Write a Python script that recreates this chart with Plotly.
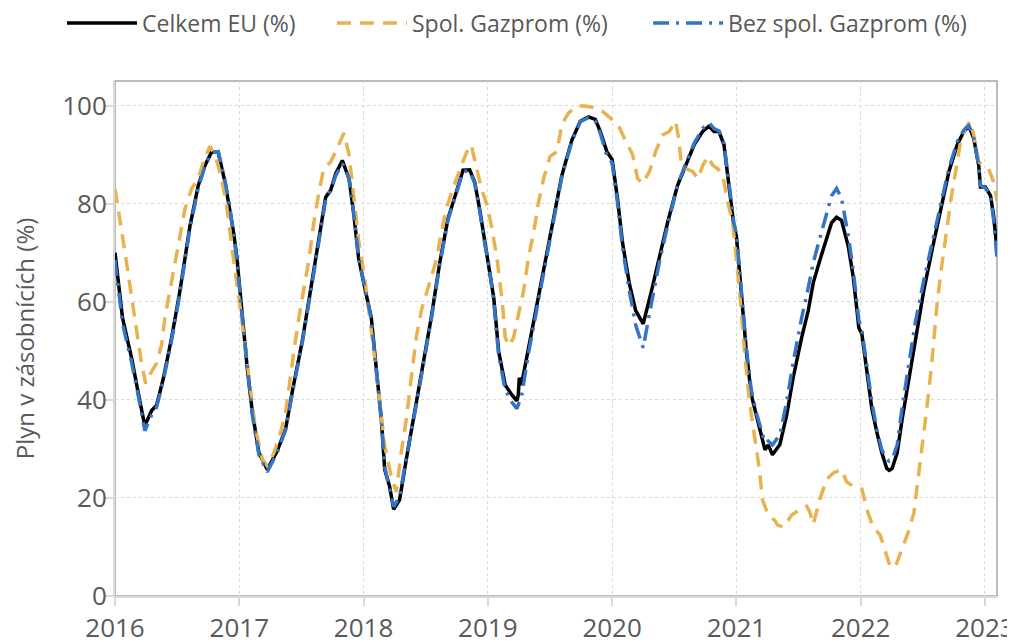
import plotly.graph_objects as go

# ---- data (decimal years, % full) ----
t_eu = [2016.00, 2016.03, 2016.06, 2016.10, 2016.134, 2016.19, 2016.24, 2016.295, 2016.335, 2016.39,
        2016.456, 2016.523, 2016.603, 2016.67, 2016.724, 2016.778, 2016.831, 2016.885, 2016.925, 2016.955,
        2016.979, 2017.011, 2017.064, 2017.105, 2017.158, 2017.225, 2017.306, 2017.373, 2017.426, 2017.507,
        2017.587, 2017.655, 2017.695, 2017.735, 2017.776, 2017.829, 2017.883, 2017.923, 2017.96, 2018.01,
        2018.062, 2018.102, 2018.143, 2018.17, 2018.21, 2018.242, 2018.29, 2018.344, 2018.411, 2018.478,
        2018.545, 2018.612, 2018.679, 2018.746, 2018.80, 2018.854, 2018.894, 2018.934, 2018.974, 2019.006,
        2019.047, 2019.087, 2019.14, 2019.194, 2019.234, 2019.245, 2019.253, 2019.27, 2019.328, 2019.381,
        2019.449, 2019.516, 2019.596, 2019.677, 2019.744, 2019.81, 2019.865, 2019.905, 2019.958, 2020.0,
        2020.044, 2020.084, 2020.138, 2020.19, 2020.25, 2020.31, 2020.379, 2020.446, 2020.526, 2020.593,
        2020.66, 2020.728, 2020.78, 2020.82, 2020.86, 2020.90, 2020.94, 2020.98, 2021.0, 2021.04,
        2021.08, 2021.12, 2021.16, 2021.20, 2021.23, 2021.256, 2021.29, 2021.35, 2021.404, 2021.457,
        2021.525, 2021.578, 2021.618, 2021.672, 2021.726, 2021.766, 2021.806, 2021.846, 2021.90, 2021.94,
        2021.97, 2021.985, 2022.01, 2022.05, 2022.09, 2022.13, 2022.17, 2022.21, 2022.23, 2022.253,
        2022.294, 2022.334, 2022.388, 2022.44, 2022.508, 2022.575, 2022.643, 2022.71, 2022.777, 2022.83,
        2022.87, 2022.91, 2022.95, 2022.964, 2023.004, 2023.045, 2023.07, 2023.097]

celkem_eu = [70.0, 63.3, 56.8, 52.2, 48.5, 41.0, 34.7, 37.8, 38.9, 44.5,
             52.7, 62.3, 75.4, 83.7, 87.8, 90.6, 90.4, 84.4, 78.9, 74.0,
             69.4, 60.9, 46.5, 37.5, 29.2, 25.8, 29.6, 34.1, 41.6, 52.0,
             64.4, 74.7, 81.3, 82.7, 86.1, 88.8, 85.1, 77.5, 68.9, 62.8,
             56.8, 46.5, 36.1, 25.8, 22.3, 17.7, 19.6, 27.9, 37.5, 47.2,
             56.8, 67.8, 76.9, 82.3, 86.8, 86.9, 84.4, 78.9, 72.5, 68.5,
             60.9, 49.9, 43.0, 41.0, 39.8, 41.0, 44.5, 43.0, 50.6, 57.5,
             66.5, 76.1, 85.8, 93.0, 96.8, 97.7, 97.2, 94.7, 90.6, 89.0,
             80.9, 72.0, 63.8, 58.2, 55.5, 61.5, 69.2, 76.1, 83.7, 87.8,
             92.0, 94.7, 95.8, 94.7, 94.7, 92.0, 83.1, 75.4, 73.4, 60.9,
             49.9, 41.0, 36.8, 32.7, 29.8, 30.8, 28.8, 30.9, 36.8, 44.5,
             52.7, 58.2, 63.8, 68.5, 72.7, 76.1, 77.2, 76.6, 71.3, 65.1,
             58.3, 54.7, 53.4, 45.8, 38.2, 33.4, 29.2, 26.0, 25.6, 26.0,
             29.2, 36.1, 44.5, 52.7, 62.3, 70.6, 78.9, 86.5, 92.0, 94.7,
             95.8, 93.3, 87.8, 83.4, 83.4, 81.6, 77.5, 70.5]

bez_gazprom = [68.5, 61.3, 55.7, 51.2, 47.6, 40.5, 33.7, 36.9, 38.5, 44.1,
               52.2, 61.8, 75.0, 83.2, 87.7, 90.3, 90.6, 84.7, 79.1, 73.5,
               68.9, 60.3, 46.1, 36.9, 28.8, 25.3, 29.3, 33.9, 41.2, 51.7,
               63.9, 74.5, 80.8, 82.7, 85.7, 88.2, 85.2, 77.6, 69.2, 62.8,
               56.5, 46.1, 35.9, 26.3, 21.7, 18.2, 20.2, 28.3, 37.1, 46.9,
               56.4, 67.4, 76.6, 82.1, 86.5, 86.7, 84.2, 78.6, 72.0, 67.9,
               60.3, 49.1, 42.0, 39.5, 38.2, 39.0, 39.5, 40.5, 49.6, 56.8,
               65.9, 75.5, 85.5, 92.8, 96.7, 97.5, 96.9, 94.3, 89.8, 88.3,
               80.1, 71.0, 62.3, 55.2, 50.6, 58.8, 67.9, 75.5, 83.7, 88.2,
               92.3, 95.3, 96.5, 95.3, 94.8, 92.3, 83.7, 76.0, 74.0, 61.8,
               50.6, 42.0, 37.4, 33.9, 31.3, 31.6, 30.8, 32.9, 39.5, 47.6,
               56.7, 62.8, 67.9, 73.0, 78.1, 81.6, 83.1, 81.1, 73.5, 66.4,
               59.8, 56.2, 54.2, 47.1, 39.5, 33.9, 29.8, 27.8, 27.5, 27.8,
               30.8, 38.5, 47.6, 55.8, 64.4, 72.0, 79.6, 87.2, 92.6, 95.0,
               95.9, 93.3, 87.7, 83.7, 83.2, 81.6, 76.6, 69.0]

t_gaz = [2016.00, 2016.054, 2016.094, 2016.134, 2016.175, 2016.215, 2016.247, 2016.28, 2016.335, 2016.375,
         2016.402, 2016.442, 2016.483, 2016.523, 2016.563, 2016.617, 2016.67, 2016.71, 2016.764, 2016.81,
         2016.858, 2016.898, 2016.93, 2016.965, 2017.011, 2017.051, 2017.09, 2017.13, 2017.185, 2017.225,
         2017.279, 2017.333, 2017.373, 2017.40, 2017.44, 2017.48, 2017.52, 2017.56, 2017.60, 2017.64,
         2017.68, 2017.735, 2017.788, 2017.842, 2017.883, 2017.923, 2017.963, 2018.009, 2018.05, 2018.09,
         2018.13, 2018.17, 2018.223, 2018.263, 2018.303, 2018.344, 2018.384, 2018.424, 2018.465, 2018.505,
         2018.545, 2018.585, 2018.625, 2018.665, 2018.719, 2018.773, 2018.826, 2018.866, 2018.907, 2018.947,
         2018.995, 2019.035, 2019.075, 2019.115, 2019.14, 2019.17, 2019.207, 2019.248, 2019.288, 2019.328,
         2019.368, 2019.408, 2019.449, 2019.50, 2019.556, 2019.596, 2019.65, 2019.717, 2019.784, 2019.85,
         2019.918, 2019.985, 2020.06, 2020.11, 2020.165, 2020.205, 2020.245, 2020.30, 2020.35, 2020.406,
         2020.46, 2020.51, 2020.536, 2020.555, 2020.595, 2020.65, 2020.69, 2020.73, 2020.77, 2020.81,
         2020.85, 2020.89, 2020.93, 2020.97, 2020.985, 2021.025, 2021.065, 2021.105, 2021.145, 2021.185,
         2021.21, 2021.256, 2021.31, 2021.33, 2021.38, 2021.444, 2021.51, 2021.565, 2021.59, 2021.618,
         2021.67, 2021.725, 2021.78, 2021.846, 2021.886, 2021.94, 2022.01, 2022.05, 2022.10, 2022.157,
         2022.197, 2022.237, 2022.28, 2022.334, 2022.388, 2022.428, 2022.455, 2022.48, 2022.508, 2022.535,
         2022.568, 2022.59, 2022.615, 2022.648, 2022.683, 2022.723, 2022.764, 2022.804, 2022.844, 2022.88,
         2022.91, 2022.95, 2022.99, 2023.03, 2023.07, 2023.097]

spol_gazprom = [83.0, 74.7, 67.8, 60.9, 54.0, 47.2, 43.3, 45.1, 47.5, 51.3,
                56.8, 62.3, 67.8, 73.4, 78.9, 83.1, 85.1, 88.5, 91.7, 89.6,
                85.1, 79.6, 72.7, 66.5, 58.2, 50.0, 41.6, 34.1, 27.9, 26.5,
                29.2, 33.4, 37.5, 43.0, 50.0, 56.8, 62.3, 68.5, 76.1, 82.3,
                87.1, 88.5, 91.3, 94.4, 90.0, 81.6, 72.0, 64.9, 56.8, 48.5,
                39.6, 30.6, 24.4, 21.2, 29.2, 36.1, 44.5, 52.7, 58.2, 61.6,
                65.1, 68.5, 74.0, 78.9, 83.1, 86.8, 90.3, 92.0, 87.8, 83.2,
                79.6, 74.7, 68.5, 60.3, 52.7, 51.0, 52.7, 57.5, 62.3, 69.2,
                74.0, 80.3, 85.1, 89.6, 90.6, 96.2, 98.5, 99.9, 99.9, 99.6,
                98.9, 97.5, 95.4, 92.7, 90.0, 85.1, 84.1, 86.5, 90.6, 94.0,
                94.7, 96.8, 93.3, 88.5, 87.1, 86.5, 85.1, 87.8, 89.6, 87.8,
                87.1, 85.8, 80.3, 76.1, 72.7, 62.3, 50.0, 39.6, 32.7, 25.8,
                19.6, 16.5, 15.4, 14.5, 14.0, 16.5, 17.6, 18.3, 17.2, 14.6,
                19.6, 23.8, 25.1, 25.8, 23.3, 22.3, 21.8, 17.6, 14.1, 12.4,
                9.2, 6.0, 6.0, 9.9, 13.4, 16.9, 22.3, 27.9, 34.1, 38.9,
                46.5, 52.7, 59.6, 66.5, 73.4, 80.3, 86.5, 92.7, 95.4, 96.8,
                94.0, 88.5, 87.8, 87.1, 84.4, 80.6]

year_ticks = [2016, 2017, 2018, 2019, 2020, 2021, 2022, 2023]
year_labels = [str(y) for y in year_ticks]
y_ticks = [0, 20, 40, 60, 80, 100]

FONT = "Open Sans"
TXT = "#595959"
GRID = "#D9D9D9"

fig = go.Figure()
fig.add_trace(go.Scatter(x=t_eu, y=celkem_eu, mode="lines", name="Celkem EU (%)",
                         line=dict(color="#000000", width=3.5), legend="legend", showlegend=True))
fig.add_trace(go.Scatter(x=t_gaz, y=spol_gazprom, mode="lines", name="Spol. Gazprom (%)",
                         line=dict(color="#E8B24E", width=3.5, dash="14px,9px"), legend="legend2",
                         showlegend=True))
fig.add_trace(go.Scatter(x=t_eu, y=bez_gazprom, mode="lines", name="Bez spol. Gazprom (%)",
                         line=dict(color="#3474C4", width=3.5, dash="16px,7px,3px,7px"), legend="legend3",
                         showlegend=True))

leg = dict(orientation="h", xref="container", yref="container", yanchor="middle", y=0.9763,
           xanchor="left", itemwidth=70,
           font=dict(family=FONT, size=23, color=TXT), bgcolor="rgba(0,0,0,0)", borderwidth=0)

# page body adds an 8px offset, so the figure is 8px smaller than the window
fig.update_layout(
    width=1007, height=634,
    showlegend=True,
    margin=dict(l=107, r=18, t=73, b=46, autoexpand=False),
    paper_bgcolor="white", plot_bgcolor="white",
    font=dict(family=FONT, color=TXT),
    legend=dict(leg, x=0.0536),
    legend2=dict(leg, x=0.3217),
    legend3=dict(leg, x=0.6356),
    shapes=[dict(type="rect", xref="paper", yref="paper", x0=0, y0=0, x1=1, y1=1,
                 line=dict(color="#A6A6A6", width=1.5), layer="below")],
)
fig.update_xaxes(range=[2016, 2023.097], tickvals=year_ticks, ticktext=year_labels,
                 showgrid=True, gridcolor=GRID, griddash="dot", gridwidth=1.3,
                 showline=True, linecolor=GRID, linewidth=2,
                 ticks="outside", ticklen=8, tickcolor=GRID, tickwidth=2,
                 tickfont=dict(family=FONT, size=26, color=TXT), zeroline=False)
fig.update_yaxes(range=[0, 105], tickvals=y_ticks,
                 showgrid=True, gridcolor=GRID, griddash="dot", gridwidth=1.3,
                 showline=True, linecolor=GRID, linewidth=2,
                 ticks="outside", ticklen=9, tickcolor=GRID, tickwidth=2,
                 ticklabelstandoff=-8,
                 tickfont=dict(family=FONT, size=26, color=TXT), zeroline=False,
                 title=dict(text="Plyn v zásobnících (%)", font=dict(family=FONT, size=24, color=TXT),
                            standoff=22))

fig.write_html("out.html")
